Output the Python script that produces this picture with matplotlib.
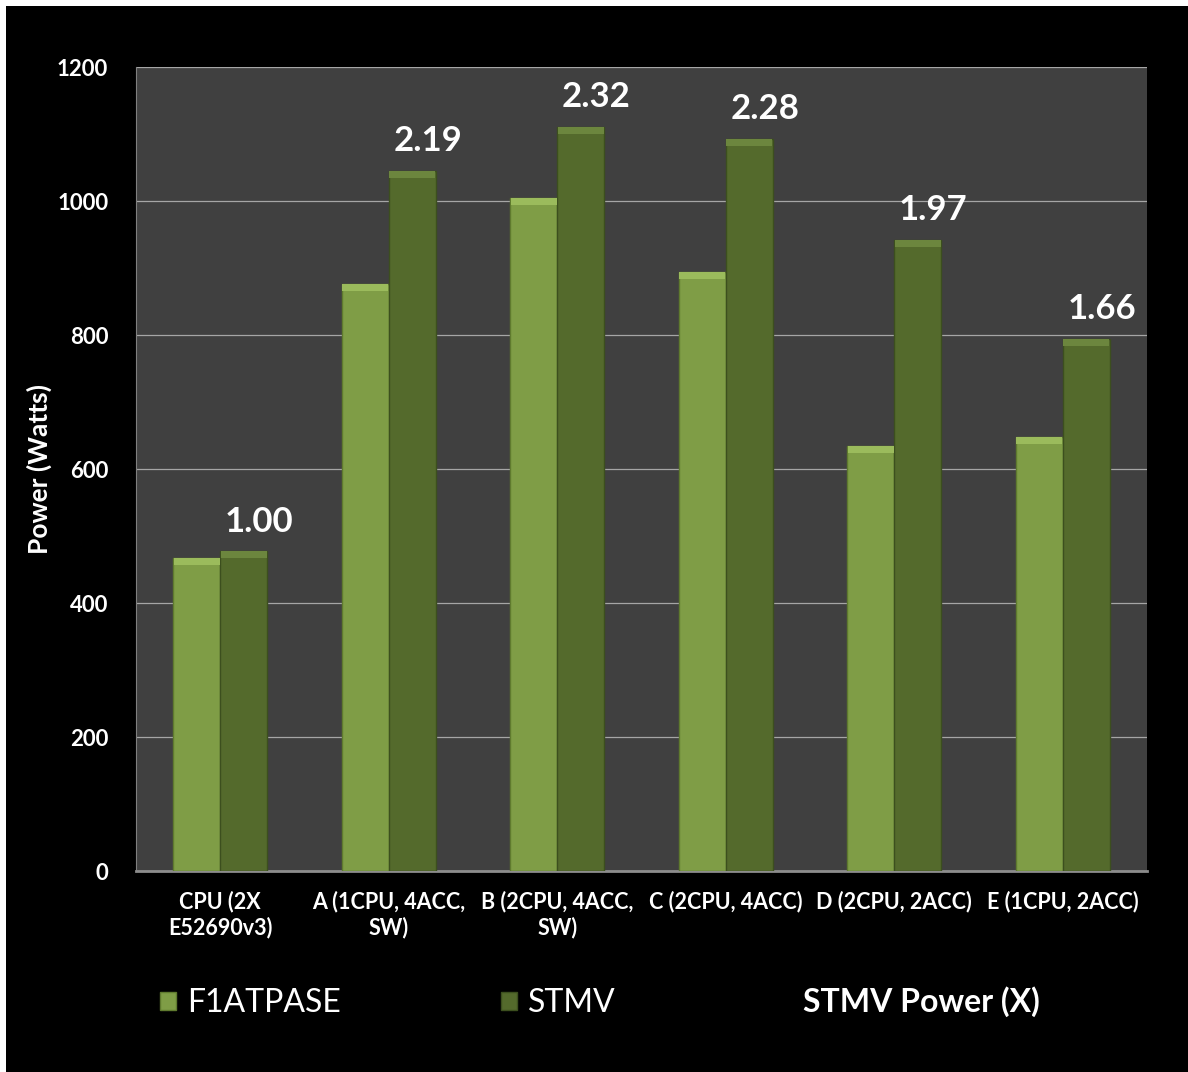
import numpy as np
import matplotlib
matplotlib.use('Agg')
import matplotlib.pyplot as plt
from matplotlib.patches import Patch, Rectangle
from matplotlib.lines import Line2D

plt.rcParams['font.family'] = ['Lato', 'DejaVu Sans']

# données
categories = ['CPU (2X\nE52690v3)', 'A (1CPU, 4ACC,\nSW)', 'B (2CPU, 4ACC,\nSW)',
              'C (2CPU, 4ACC)', 'D (2CPU, 2ACC)', 'E (1CPU, 2ACC)']
f1atpase = [467, 876, 1004, 894, 634, 648]
stmv = [477, 1045, 1110, 1092, 942, 794]
stmv_power = ['1.00', '2.19', '2.32', '2.28', '1.97', '1.66']

col_f1 = '#7f9d46'
col_stmv = '#546a2c'

fig = plt.figure(figsize=(11.88, 10.72), dpi=100, facecolor='white')
# fond noir avec petite marge blanche en haut et à gauche
fig.patches.append(Rectangle((6 / 1188, 0), 1, 1 - 6 / 1072, transform=fig.transFigure,
                             facecolor='black', edgecolor='none', zorder=-10))

ax = fig.add_axes([0.1145, 0.1875, 0.851, 0.75])
ax.set_facecolor('#404040')

x = np.arange(len(categories))
w = 0.28
cap = 10  # petit biseau clair en haut des barres
ax.bar(x - w / 2, f1atpase, width=w, color=col_f1, edgecolor='#5f7a2e', linewidth=1, zorder=3)
ax.bar(x - w / 2, cap, bottom=np.array(f1atpase) - cap, width=w * 0.97, color='#9bbb5c',
       linewidth=0, zorder=4)
b2 = ax.bar(x + w / 2, stmv, width=w, color=col_stmv, edgecolor='#3c4f1e', linewidth=1, zorder=3)
ax.bar(x + w / 2, cap, bottom=np.array(stmv) - cap, width=w * 0.97, color='#6c863e',
       linewidth=0, zorder=4)

for rect, lab in zip(b2, stmv_power):
    ax.annotate(lab, (rect.get_x() + rect.get_width() / 2, rect.get_height()),
                xytext=(11, 10), textcoords='offset points', ha='center', va='bottom',
                color='white', fontsize=25, fontweight='bold')

ax.set_xlim(-0.5, len(categories) - 0.5)
ax.set_ylim(0, 1200)
ax.set_yticks(range(0, 1201, 200))
ax.grid(axis='y', color='#a6a6a6', linewidth=0.9, zorder=0)
ax.set_xticks(x)
ax.set_xticklabels(categories, fontsize=15.5, fontweight='bold', color='white', linespacing=1.25)
for t in ax.get_yticklabels():
    t.set_fontsize(16)
    t.set_fontweight('bold')
    t.set_color('white')
ax.tick_params(length=0, pad=20)
ax.tick_params(axis='x', pad=14)
ax.set_ylabel('Power (Watts)', fontsize=19, fontweight='bold', color='white')
ax.yaxis.set_label_coords(-0.083, 0.5)

for s in ['top', 'right']:
    ax.spines[s].set_visible(False)
ax.spines['left'].set_color('#808080')
ax.spines['bottom'].set_color('#8c8c8c')
ax.spines['bottom'].set_linewidth(2)

handles = [Patch(facecolor=col_f1, edgecolor='#5f7a2e'),
           Patch(facecolor=col_stmv, edgecolor='#3c4f1e'),
           Line2D([], [], color='none')]
leg = fig.legend(handles, ['F1ATPASE', 'STMV', 'STMV Power (X)'], loc='center',
                 bbox_to_anchor=(0.505, 0.065), ncol=3, frameon=False, fontsize=23,
                 handlelength=0.5, handleheight=0.5, handletextpad=0.35, columnspacing=5.0)
for t in leg.get_texts():
    t.set_color('white')
leg.get_texts()[2].set_fontweight('bold')

fig.savefig('out.png', dpi=100, facecolor=fig.get_facecolor())
